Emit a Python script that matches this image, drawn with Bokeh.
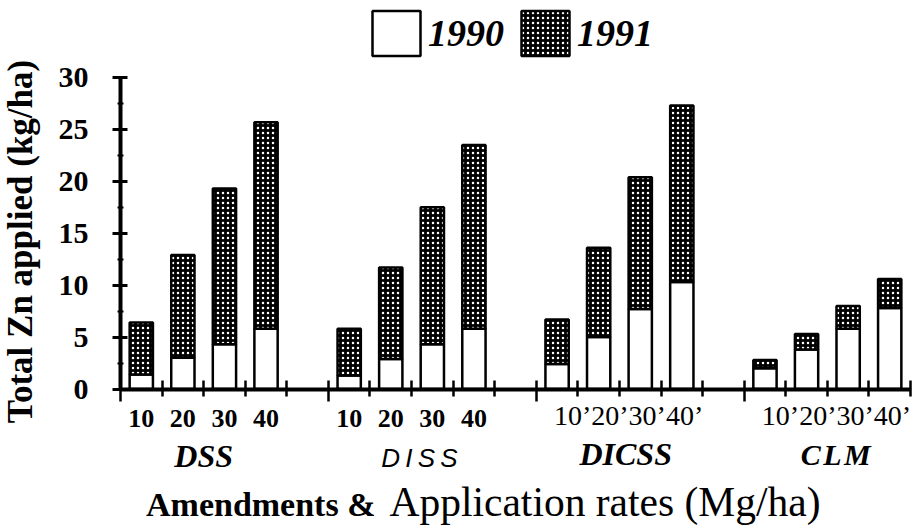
import math
from bokeh.plotting import figure
from bokeh.models import (Range1d, FixedTicker, LinearAxis, Label, Legend,
                          LegendItem, ColumnDataSource)
from bokeh.embed import file_html
from bokeh.resources import INLINE

# ---------------- data ----------------
amendments = ["DSS", "DISS", "DICSS", "CLM"]
amendment_labels = ["DSS", "D\u2009I\u2009S\u2009S", "DICSS", "C\u200aL\u200aM"]
rates = ["10", "20", "30", "40"]
rates_primed = "10\u201920\u201930\u201940\u2019"

# Zn applied (kg/ha), one value per amendment x rate (10, 20, 30, 40)
zn_1990_DSS = [1.4, 3.0, 4.3, 5.8]
zn_1990_DISS = [1.3, 2.9, 4.3, 5.8]
zn_1990_DICSS = [2.4, 5.0, 7.7, 10.3]
zn_1990_CLM = [2.0, 3.8, 5.8, 7.8]

zn_1991_DSS = [5.0, 9.9, 15.0, 19.9]
zn_1991_DISS = [4.5, 8.8, 13.2, 17.7]
zn_1991_DICSS = [4.3, 8.6, 12.7, 17.0]
zn_1991_CLM = [0.8, 1.5, 2.2, 2.8]

y_ticks = [0, 5, 10, 15, 20, 25, 30]
y_minor = [2.5, 7.5, 12.5, 17.5, 22.5, 27.5]

# ---------------- build ----------------
z90 = zn_1990_DSS + zn_1990_DISS + zn_1990_DICSS + zn_1990_CLM
z91 = zn_1991_DSS + zn_1991_DISS + zn_1991_DICSS + zn_1991_CLM
n_rates = len(rates)
slots_per_group = n_rates + 1
xs = [g * slots_per_group + i + 0.5 for g in range(len(amendments)) for i in range(n_rates)]
tops = [a + b for a, b in zip(z90, z91)]
n_slots = len(amendments) * slots_per_group - 1

src = ColumnDataSource(dict(x=xs, z90=z90, top=tops))

SERIF = "Liberation Serif"
INK = "black"

# canvas geometry (pixels): where the two axes sit on the canvas
W, H = 914, 526
AX_LEFT, AX_RIGHT = 120.0, 910.0      # x pixel of slot 0 and slot n_slots
AX_ZERO, AX_TOP = 388.5, 77.0         # y pixel of value 0 and value 30
x_px = (AX_RIGHT - AX_LEFT) / n_slots
y_px = (AX_ZERO - AX_TOP) / y_ticks[-1]
x_start = -AX_LEFT / x_px
x_end = (W - AX_LEFT) / x_px
y_start = -(H - AX_ZERO) / y_px
y_end = AX_ZERO / y_px

def ypix(py):
    """data y for a canvas pixel row"""
    return (AX_ZERO - py) / y_px

def xpix(px):
    return (px - AX_LEFT) / x_px

def base(py, fs):
    """data y that puts a text of font size fs with its baseline on pixel row py"""
    return ypix(py - 0.27 * fs)

p = figure(width=W, height=H, x_range=Range1d(x_start, x_end), y_range=Range1d(y_start, y_end),
           output_backend="svg", toolbar_location=None,
           x_axis_type=None, y_axis_type=None,
           min_border=0)
p.outline_line_color = None
p.background_fill_color = "white"
p.border_fill_color = "white"

r90 = p.vbar(x="x", bottom=0, top="z90", width=0.56, source=src,
             fill_color="white", line_color=INK, line_width=2.5)
r91 = p.vbar(x="x", bottom="z90", top="top", width=0.56, source=src,
             fill_color=INK, hatch_pattern="dot", hatch_color="white",
             hatch_scale=5, hatch_weight=1, line_color=INK, line_width=2.5)

yaxis = LinearAxis(ticker=FixedTicker(ticks=y_ticks, minor_ticks=y_minor),
                   bounds=(0, y_ticks[-1]), fixed_location=0,
                   axis_line_width=4, axis_line_color=INK,
                   major_tick_in=7, major_tick_out=8, major_tick_line_color=INK,
                   major_tick_line_width=3, minor_tick_in=3, minor_tick_out=3,
                   minor_tick_line_width=2, minor_tick_line_color=INK,
                   major_label_text_font=SERIF, major_label_text_font_style="bold",
                   major_label_text_font_size="30px", major_label_standoff=24,
                   major_label_text_color=INK)
p.add_layout(yaxis, "left")

group_starts = [g * slots_per_group for g in range(len(amendments))]
minor_x = [s for s in range(n_slots + 1) if s not in group_starts]
xaxis = LinearAxis(ticker=FixedTicker(ticks=group_starts, minor_ticks=minor_x),
                   bounds=(0, n_slots), fixed_location=0,
                   axis_line_width=4, axis_line_color=INK,
                   major_tick_in=9, major_tick_out=12, major_tick_line_color=INK,
                   minor_tick_in=9, minor_tick_out=7, minor_tick_line_color=INK,
                   major_tick_line_width=2.5, minor_tick_line_width=2.5,
                   major_label_overrides={s: "" for s in group_starts})
p.add_layout(xaxis, "below")

# y-axis title as rotated text left of the axis
p.add_layout(Label(x=xpix(20), y=ypix(241), text="Total Zn applied (kg/ha)",
                   angle=math.pi / 2, text_align="center", text_baseline="middle",
                   text_font=SERIF, text_font_style="bold", text_font_size="35px",
                   text_color=INK))

# rate labels
for g, name in enumerate(amendments):
    if g < 2:
        for i, r in enumerate(rates):
            p.add_layout(Label(x=xs[g * n_rates + i], y=base(425, 26), text=r,
                               text_align="center", text_baseline="alphabetic",
                               text_font=SERIF, text_font_style="bold",
                               text_font_size="26px", text_color=INK))
    else:
        p.add_layout(Label(x=g * slots_per_group + 2.22, y=base(423, 28), text=rates_primed,
                           text_align="center", text_baseline="alphabetic",
                           text_font=SERIF, text_font_size="28px", text_color=INK))

group_label_x = [2.0, 7.19, 12.15, 17.2]
group_label_base = [464, 465, 462, 462]
group_fonts = [(SERIF, "bold italic", 32),
               ("Liberation Sans", "italic", 26),
               (SERIF, "bold italic", 32),
               (SERIF, "bold italic", 30)]
for gx, lab, b, (f, st, sz) in zip(group_label_x, amendment_labels, group_label_base, group_fonts):
    p.add_layout(Label(x=gx, y=base(b, sz), text=lab, text_align="center",
                       text_baseline="alphabetic", text_font=f,
                       text_font_style=st, text_font_size=f"{sz}px", text_color=INK))

# x-axis title (mixed weights)
p.add_layout(Label(x=xpix(375), y=base(513, 34), text="Amendments &", text_align="right",
                   text_baseline="alphabetic", text_font=SERIF, text_font_style="bold",
                   text_font_size="34px", text_color=INK))
p.add_layout(Label(x=xpix(389), y=base(513, 41.5), text="Application rates (Mg/ha)",
                   text_align="left", text_baseline="alphabetic", text_font=SERIF,
                   text_font_size="41.5px", text_color=INK))

# legend: the swatch is drawn 10% inside the glyph area on each side;
# location is (left, bottom) in pixels from the frame's bottom-left corner
legend = Legend(items=[LegendItem(label="1990", renderers=[r90]),
                       LegendItem(label="1991", renderers=[r91])],
                orientation="horizontal", location=(366, H - 61),
                glyph_width=60, glyph_height=56, label_standoff=2, spacing=11,
                padding=0, margin=0, border_line_alpha=0, background_fill_alpha=0,
                label_text_font=SERIF, label_text_font_style="bold italic",
                label_text_font_size="38px", label_text_color=INK)
p.add_layout(legend)

open("out.html", "w").write(file_html(p, INLINE))
